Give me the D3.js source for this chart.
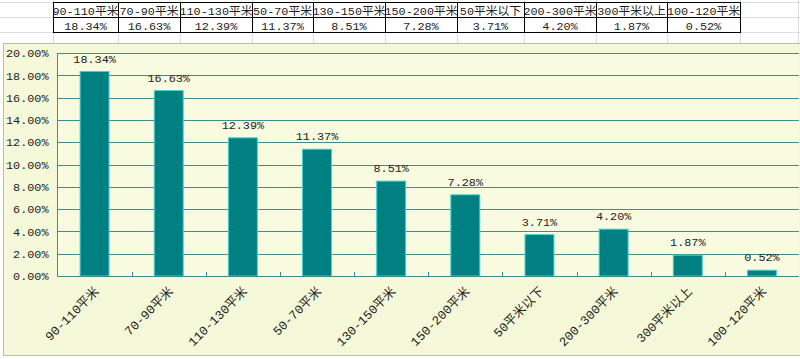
<!DOCTYPE html>
<html><head><meta charset="utf-8">
<script src="https://cdn.jsdelivr.net/npm/d3@7"></script>
<style>
html,body{margin:0;padding:0;background:#fff;}
svg{display:block;}
text{font-family:"Liberation Mono","Noto Sans CJK SC",monospace;fill:#222;}
</style></head>
<body>
<script>
// ---- data ----
const categories = ["90-110平米","70-90平米","110-130平米","50-70平米","130-150平米","150-200平米","50平米以下","200-300平米","300平米以上","100-120平米"];
const shares = [18.34,16.63,12.39,11.37,8.51,7.28,3.71,4.20,1.87,0.52];
const yTicks = [0,2,4,6,8,10,12,14,16,18,20];

// ---- layout (not data) ----
const W = 800, H = 359;
const colEdges = [53,118,180,252,313,385,457,524,596,667,740];
const fmt = v => v.toFixed(2) + "%";

const svg = d3.select("body").append("svg").attr("width", W).attr("height", H);

// spreadsheet background grid
const sheetRows = [2,17,32];
svg.selectAll("line.srow").data(sheetRows).join("line")
  .attr("x1",0).attr("x2",W).attr("y1",d=>d+0.5).attr("y2",d=>d+0.5)
  .attr("stroke","#dcdcdc");
svg.selectAll("line.scol").data([...colEdges, 798]).join("line")
  .attr("x1",d=>d+0.5).attr("x2",d=>d+0.5).attr("y1",0).attr("y2",44)
  .attr("stroke","#dcdcdc");

// table
const tbl = svg.append("g");
categories.forEach((c,i)=>{
  const x0 = colEdges[i], x1 = colEdges[i+1];
  tbl.append("rect").attr("x",x0+0.5).attr("y",2.5).attr("width",x1-x0).attr("height",15)
    .attr("fill","#fff").attr("stroke","#000");
  tbl.append("rect").attr("x",x0+0.5).attr("y",17.5).attr("width",x1-x0).attr("height",15)
    .attr("fill","#fff").attr("stroke","#000");
  tbl.append("text").attr("x",(x0+x1)/2).attr("y",14.5).attr("text-anchor","middle")
    .style("font-size","11.8px").text(c);
  tbl.append("text").attr("x",(x0+x1)/2).attr("y",29.5).attr("text-anchor","middle")
    .style("font-size","11.8px").text(fmt(shares[i]));
});

// chart area
svg.append("rect").attr("x",3.5).attr("y",43.5).attr("width",W).attr("height",312)
  .attr("fill","#f5f9d9").attr("stroke","#b8bcb0");

const plot = {left:57.5, right:799, top:53, bottom:276};
const x = d3.scaleBand().domain(categories).range([plot.left, plot.right]).padding(0);
const y = d3.scaleLinear().domain([0,20]).range([plot.bottom, plot.top]);

// plot area
svg.append("rect").attr("x",plot.left).attr("y",plot.top).attr("width",plot.right-plot.left)
  .attr("height",plot.bottom-plot.top).attr("fill","#f8fbdf");

// gridlines
svg.append("g").selectAll("line").data(yTicks).join("line")
  .attr("x1",plot.left).attr("x2",plot.right)
  .attr("y1",d=>Math.round(y(d))+0.5).attr("y2",d=>Math.round(y(d))+0.5)
  .attr("stroke","#3a8f8f").attr("stroke-width",1);

// plot border left
svg.append("line").attr("x1",plot.left).attr("x2",plot.left).attr("y1",plot.top).attr("y2",plot.bottom)
  .attr("stroke","#3a8f8f");

// y axis labels
const yAxis = d3.axisLeft(y).tickValues(yTicks).tickSize(0).tickPadding(9).tickFormat(d=>fmt(d));
const ya = svg.append("g").attr("transform",`translate(${plot.left},0)`).call(yAxis);
ya.select(".domain").remove();
ya.selectAll("text").style("font-size","11.8px").attr("fill","#222").style("font-family",'"Liberation Mono","Noto Sans CJK SC",monospace');

// bars
const bw = x.bandwidth()*0.39;
svg.append("g").selectAll("rect").data(shares).join("rect")
  .attr("x",(d,i)=>x(categories[i]) + (x.bandwidth()-bw)/2)
  .attr("y",d=>y(d))
  .attr("width",bw)
  .attr("height",d=>plot.bottom - y(d))
  .attr("fill","#008080").attr("stroke","#40d0d0").attr("stroke-width",1);

// x axis: tick marks between categories pointing up
const xa = svg.append("g").attr("transform",`translate(0,${plot.bottom})`);
xa.append("line").attr("x1",plot.left).attr("x2",plot.right).attr("y1",0.5).attr("y2",0.5)
  .attr("stroke","#3a8f8f");
xa.selectAll("line.tk").data(categories.slice(1)).join("line")
  .attr("x1",d=>Math.round(x(d))+0.5).attr("x2",d=>Math.round(x(d))+0.5)
  .attr("y1",-4).attr("y2",0).attr("stroke","#3a8f8f");
xa.selectAll("text").data(categories).join("text")
  .attr("transform",d=>`translate(${x(d)+x.bandwidth()/2+2},${13}) rotate(-45)`)
  .attr("text-anchor","end").attr("dy","0.35em")
  .style("font-size","12.5px").text(d=>d);

// data labels
svg.append("g").selectAll("text").data(shares).join("text")
  .attr("x",(d,i)=>x(categories[i])+x.bandwidth()/2)
  .attr("y",d=>y(d)-9)
  .attr("text-anchor","middle")
  .style("font-size","11.8px").text(d=>fmt(d));
</script>
</body></html>
